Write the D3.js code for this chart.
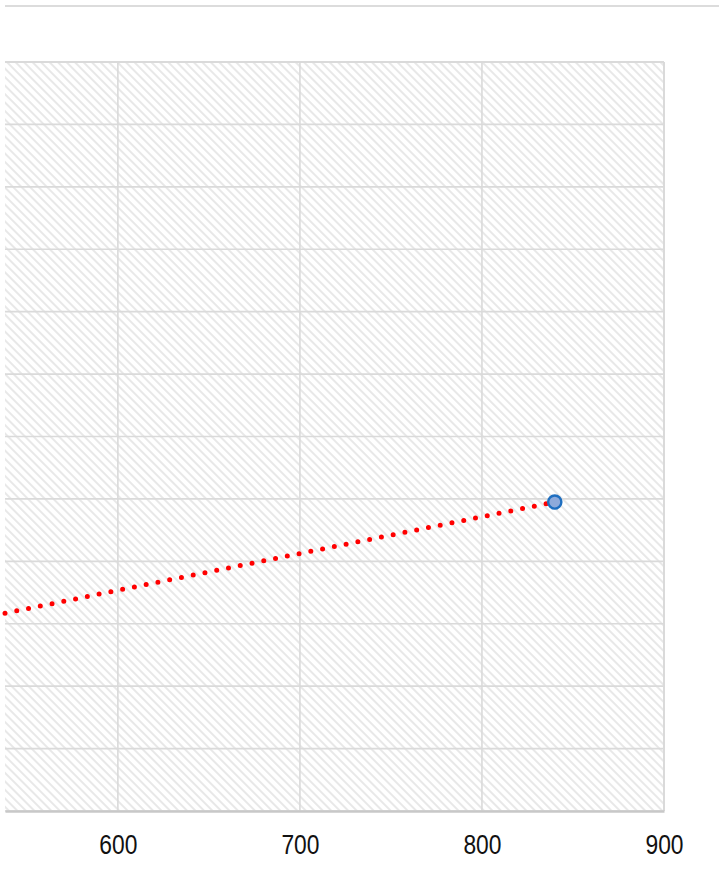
<!DOCTYPE html>
<html>
<head>
<meta charset="utf-8">
<script src="https://cdn.jsdelivr.net/npm/d3@7"></script>
<style>
  html, body { margin: 0; padding: 0; background: #fff; }
  svg { display: block; }
</style>
</head>
<body>
<svg id="chart" width="719" height="891"></svg>
<script>
// ---- data ----
const xTicks = [600, 700, 800, 900];
const yTicks = [0, 1, 2, 3, 4, 5, 6, 7, 8, 9, 10, 11, 12];
const pointX = [840];
const pointY = [4.95];
const trendX = [538, 840];
const trendY = [3.17, 4.95];

// ---- layout ----
const W = 719, H = 891;
const plot = { left: 5, right: 664, top: 62, bottom: 811 };

const svg = d3.select("#chart");
const x = d3.scaleLinear().domain([538, 900]).range([plot.left, plot.right]);
const y = d3.scaleLinear().domain([0, 12]).range([plot.bottom, plot.top]);

// hatch pattern
const defs = svg.append("defs");
const pat = defs.append("pattern")
  .attr("id", "hatch")
  .attr("patternUnits", "userSpaceOnUse")
  .attr("width", 6).attr("height", 6)
  .attr("patternTransform", "rotate(45)");
pat.append("line")
  .attr("x1", 0).attr("y1", 3).attr("x2", 6).attr("y2", 3)
  .attr("stroke", "#e2e2e2").attr("stroke-width", 1.6);

// top separator line
svg.append("line")
  .attr("x1", plot.left).attr("x2", W)
  .attr("y1", 6).attr("y2", 6)
  .attr("stroke", "#dcdcdc").attr("stroke-width", 2.2);

// plot background
svg.append("rect")
  .attr("x", plot.left).attr("y", plot.top)
  .attr("width", plot.right - plot.left).attr("height", plot.bottom - plot.top)
  .attr("fill", "url(#hatch)");

// gridlines
svg.append("g").selectAll("line").data(yTicks).join("line")
  .attr("x1", plot.left).attr("x2", plot.right)
  .attr("y1", d => y(d)).attr("y2", d => y(d))
  .attr("stroke", "#dadada").attr("stroke-width", d => d === 12 ? 2 : 1.6);
svg.append("g").selectAll("line").data(xTicks).join("line")
  .attr("x1", d => x(d)).attr("x2", d => x(d))
  .attr("y1", plot.top).attr("y2", plot.bottom)
  .attr("stroke", "#dadada").attr("stroke-width", d => d === 900 ? 2 : 1.6);

// x axis
const xAxis = svg.append("g")
  .attr("transform", `translate(0,${plot.bottom})`)
  .call(d3.axisBottom(x).tickValues(xTicks).tickSize(0).tickPadding(23));
xAxis.select(".domain").attr("stroke", "#c8c8c8").attr("stroke-width", 2.4);
xAxis.selectAll("text")
  .attr("font-family", "'Liberation Sans', Arial, sans-serif")
  .attr("font-size", 28.5)
  .attr("transform", "scale(0.8,1)")
  .attr("fill", "#111");

// trend line
const trend = trendX.map((v, i) => [v, trendY[i]]);
svg.append("path")
  .datum(trend)
  .attr("d", d3.line().x(d => x(d[0])).y(d => y(d[1])))
  .attr("fill", "none")
  .attr("stroke", "#ff0000")
  .attr("stroke-width", 5)
  .attr("stroke-linecap", "round")
  .attr("stroke-dasharray", "0 12");

// point
svg.append("g").selectAll("circle").data(pointX.map((v, i) => [v, pointY[i]])).join("circle")
  .attr("cx", d => x(d[0])).attr("cy", d => y(d[1]))
  .attr("r", 6.6)
  .attr("fill", "#8eaadb")
  .attr("stroke", "#1f6fc0")
  .attr("stroke-width", 2.4);
</script>
</body>
</html>
